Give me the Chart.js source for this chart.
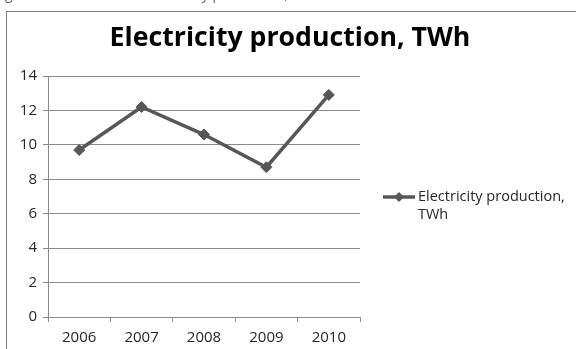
<!DOCTYPE html>
<html>
<head>
<meta charset="utf-8">
<script src="https://cdn.jsdelivr.net/npm/chart.js@4/dist/chart.umd.min.js"></script>
<style>
  html, body { margin: 0; padding: 0; background: #fff; overflow: hidden; }
  canvas { display: block; }
</style>
</head>
<body>
<canvas id="c" width="576" height="349"></canvas>
<script>
// Annual electricity production
const years = ['2006', '2007', '2008', '2009', '2010'];
const production = [9.7, 12.2, 10.6, 8.7, 12.9];
const seriesName = ['Electricity production,', 'TWh'];
const chartTitle = 'Electricity production, TWh';
const captionText = 'Figure 4.1 Total annual electricity production, TWh';
const yTicks = [0, 2, 4, 6, 8, 10, 12, 14];

const lineColor = '#575757';
const gridColor = '#8a8a8a';
const textColor = '#262626';
const FONT = "'Open Sans', 'Noto Sans', sans-serif";

// Frame around the chart, caption line above it and the centred title
const framePlugin = {
  id: 'frame',
  beforeDraw(chart) {
    const ctx = chart.ctx;
    ctx.save();
    ctx.fillStyle = '#fff';
    ctx.fillRect(0, 0, chart.width, chart.height);
    ctx.strokeStyle = '#7f7f7f';
    ctx.lineWidth = 1;
    ctx.strokeRect(6.5, 11.5, 700, 500);
    ctx.font = '14px ' + FONT;
    ctx.fillStyle = '#666';
    ctx.textBaseline = 'alphabetic';
    const lead = ctx.measureText('Fi').width;
    ctx.fillText(captionText, 5 - lead, -1);

    ctx.font = 'bold 26.7px ' + FONT;
    ctx.fillStyle = '#000';
    ctx.textAlign = 'center';
    ctx.textBaseline = 'middle';
    ctx.fillText(chartTitle, 290, 38.5);
    ctx.restore();
  }
};

// Legend at the right, wrapped over two lines
const sideLegend = {
  id: 'sideLegend',
  afterDraw(chart) {
    const ctx = chart.ctx;
    const area = chart.chartArea;
    const x0 = area.right + 23;
    const y0 = (area.top + area.bottom) / 2 + 0.5;
    const ds = chart.data.datasets[0];
    ctx.save();
    ctx.strokeStyle = ds.borderColor;
    ctx.lineWidth = 3.5;
    ctx.beginPath();
    ctx.moveTo(x0, y0);
    ctx.lineTo(x0 + 32, y0);
    ctx.stroke();
    ctx.fillStyle = ds.pointBackgroundColor;
    ctx.beginPath();
    ctx.moveTo(x0 + 16, y0 - 5);
    ctx.lineTo(x0 + 21, y0);
    ctx.lineTo(x0 + 16, y0 + 5);
    ctx.lineTo(x0 + 11, y0);
    ctx.closePath();
    ctx.fill();
    ctx.font = '14.5px ' + FONT;
    ctx.fillStyle = textColor;
    ctx.textBaseline = 'middle';
    ctx.textAlign = 'left';
    seriesName.forEach((t, i) => ctx.fillText(t, x0 + 35, y0 + i * 18));
    ctx.restore();
  }
};

new Chart(document.getElementById('c'), {
  type: 'line',
  data: {
    labels: years,
    datasets: [{
      label: seriesName.join(' '),
      data: production,
      borderColor: lineColor,
      backgroundColor: lineColor,
      pointBackgroundColor: lineColor,
      pointBorderColor: lineColor,
      borderWidth: 3.5,
      pointStyle: 'rectRot',
      pointRadius: 5.5,
      pointBorderWidth: 1,
      tension: 0,
      fill: false
    }]
  },
  options: {
    responsive: false,
    animation: false,
    devicePixelRatio: 1,
    layout: { padding: { left: 7, top: 76, right: 216, bottom: 0 } },
    plugins: {
      legend: { display: false },
      tooltip: { enabled: false },
      title: { display: false }
    },
    scales: {
      x: {
        type: 'category',
        offset: true,
        afterFit(scale) { scale.height = 32; },
        grid: {
          offset: true,
          drawOnChartArea: false,
          drawTicks: true,
          tickLength: 5,
          color: gridColor,
          lineWidth: 1
        },
        border: { display: true, color: gridColor, width: 1 },
        ticks: {
          color: textColor,
          padding: 7,
          maxRotation: 0,
          font: { family: FONT, size: 15 }
        }
      },
      y: {
        min: 0,
        max: 14,
        afterFit(scale) { scale.width = 41; },
        afterBuildTicks(scale) { scale.ticks = yTicks.map(v => ({ value: v })); },
        grid: {
          drawTicks: true,
          tickLength: 5,
          color: gridColor,
          lineWidth: 1
        },
        border: { display: true, color: gridColor, width: 1 },
        ticks: {
          color: textColor,
          padding: 6,
          font: { family: FONT, size: 15 }
        }
      }
    }
  },
  plugins: [framePlugin, sideLegend]
});
</script>
</body>
</html>
